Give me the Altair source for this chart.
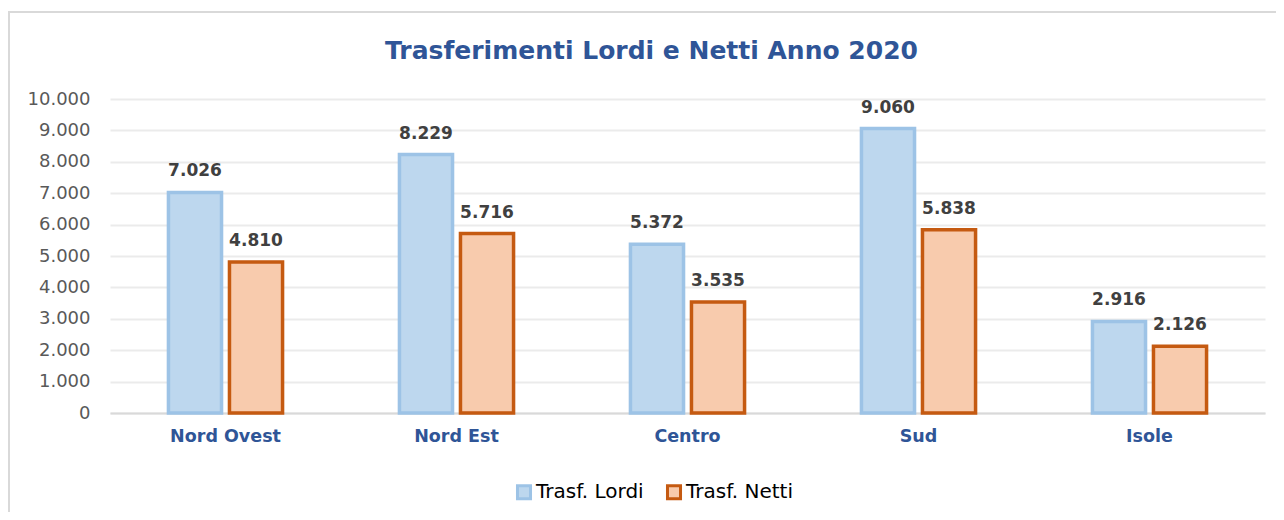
import altair as alt
import pandas as pd

regions = ["Nord Ovest", "Nord Est", "Centro", "Sud", "Isole"]
series = ["Trasf. Lordi", "Trasf. Netti"]
lordi = [7026, 8229, 5372, 9060, 2916]
netti = [4810, 5716, 3535, 5838, 2126]

rows = []
for r, a, b in zip(regions, lordi, netti):
    rows.append({"regione": r, "serie": series[0], "valore": a})
    rows.append({"regione": r, "serie": series[1], "valore": b})
df = pd.DataFrame(rows)
df["etichetta"] = df["valore"].map(lambda v: f"{v:,}".replace(",", "."))

FONT = "DejaVu Sans"

x = alt.X("regione:N", sort=regions, title=None,
          scale=alt.Scale(paddingInner=0.506, paddingOuter=0.253),
          axis=alt.Axis(labelAngle=0, labelFont=FONT, labelFontSize=17.5, labelFontWeight="bold",
                        labelColor="#2F5597", labelPadding=14, ticks=False,
                        domainColor="#D9D9D9", domainWidth=2))
xo = alt.XOffset("serie:N", sort=series, scale=alt.Scale(paddingInner=0.13, paddingOuter=0))
y = alt.Y("valore:Q", title=None,
          scale=alt.Scale(domain=[0, 10000]),
          axis=alt.Axis(values=list(range(0, 10001, 1000)), labelFont=FONT, labelFontSize=18,
                        labelColor="#595959", labelPadding=20, ticks=False, domain=False,
                        labelOverlap=False, labelBaseline="middle",
                        gridColor="#EBEBEB", gridWidth=2,
                        labelExpr="replace(format(datum.value, ','), ',', '.')"))

leg = dict(title=None, orient="none", direction="horizontal",
           legendX=404, legendY=383, symbolType="square", symbolSize=170,
           symbolStrokeWidth=3, labelFont=FONT, labelFontSize=20,
           labelColor="#000000", columnPadding=17, labelOffset=2)
fill = alt.Fill("serie:N", sort=series,
                scale=alt.Scale(domain=series, range=["#BDD7EE", "#F8CBAD"]),
                legend=alt.Legend(**leg))
stroke = alt.Stroke("serie:N", sort=series,
                    scale=alt.Scale(domain=series, range=["#9DC3E6", "#C55A11"]),
                    legend=alt.Legend(**leg))

bars = alt.Chart(df).mark_bar(strokeWidth=3.5).encode(x=x, xOffset=xo, y=y, fill=fill, stroke=stroke)

labels = alt.Chart(df).mark_text(font=FONT, fontSize=17, fontWeight="bold", color="#404040",
                                 baseline="bottom", dy=-12).encode(
    x=x, xOffset=xo, y=y, text="etichetta:N")

frame = alt.Chart(df).mark_rect(filled=False, stroke="#D9D9D9", strokeWidth=2, clip=False).encode(
    x=alt.value(-101), x2=alt.value(1200), y=alt.value(-87), y2=alt.value(500))

chart = alt.layer(frame, bars, labels).properties(
    width=1155, height=314,
    padding={"left": 102, "top": 91, "right": 11, "bottom": 99},
    autosize=alt.AutoSizeParams(type="none"),
    title=alt.TitleParams("Trasferimenti Lordi e Netti Anno 2020", font=FONT, fontSize=25,
                          fontWeight="bold", color="#2F5597", anchor="middle", frame="group",
                          dx=-36, offset=-53),
).configure_view(stroke=None)

chart.save("out.html", embed_options={"renderer": "svg", "actions": False})
